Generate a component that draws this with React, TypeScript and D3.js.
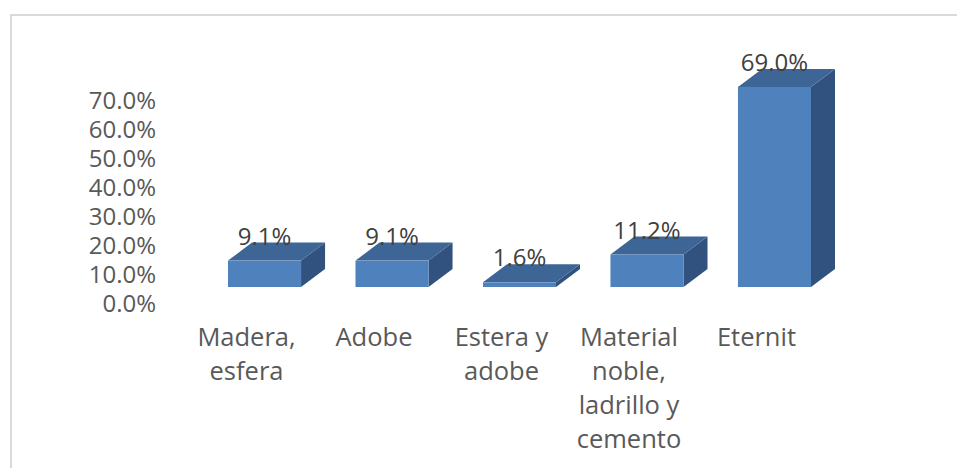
import { useRef, useEffect } from "react";
import * as d3 from "d3";

const categories = [
  "Madera,\nesfera",
  "Adobe",
  "Estera y\nadobe",
  "Material\nnoble,\nladrillo y\ncemento",
  "Eternit",
];
const values = [0.091, 0.091, 0.016, 0.112, 0.69];
const valueLabels = ["9.1%", "9.1%", "1.6%", "11.2%", "69.0%"];
const yTicks = [0, 0.1, 0.2, 0.3, 0.4, 0.5, 0.6, 0.7];

const W = 957;
const H = 468;

export default function App() {
  const svgRef = useRef<SVGSVGElement | null>(null);

  useEffect(() => {
    const svg = d3.select(svgRef.current);
    svg.selectAll("*").remove();

    const font = "'Open Sans', 'Noto Sans', sans-serif";
    const depthX = 24;
    const depthY = 18;

    // chart border (right and bottom edges fall outside the picture)
    svg
      .append("rect")
      .attr("x", 11)
      .attr("y", 15)
      .attr("width", W + 20)
      .attr("height", H + 20)
      .attr("fill", "#fff")
      .attr("stroke", "#d9d9d9")
      .attr("stroke-width", 2);

    const x = d3
      .scaleBand<string>()
      .domain(categories)
      .range([228, 811])
      .paddingInner(0.427)
      .paddingOuter(0);

    const y = d3.scaleLinear().domain([0, 0.7]).range([287, 84]);

    // y tick labels (sit a little below the bar base, like the 3D back wall)
    svg
      .append("g")
      .selectAll("text")
      .data(yTicks)
      .join("text")
      .attr("x", 156)
      .attr("y", (d) => y(d) + 16)
      .attr("dy", "0.36em")
      .attr("text-anchor", "end")
      .attr("font-family", font)
      .attr("font-size", 24)
      .attr("fill", "#595959")
      .text((d) => `${(d * 100).toFixed(1)}%`);

    const bars = svg
      .append("g")
      .selectAll("g")
      .data(values.map((v, i) => ({ v, c: categories[i], i })))
      .join("g");

    // right side face
    bars
      .append("path")
      .attr("fill", "#31527f")
      .attr("d", (d) => {
        const x1 = x(d.c)! + x.bandwidth();
        const y0 = y(0);
        const y1 = y(d.v);
        return `M${x1},${y0}L${x1 + depthX},${y0 - depthY}L${x1 + depthX},${y1 - depthY}L${x1},${y1}Z`;
      });

    // top face
    bars
      .append("path")
      .attr("fill", "#3d6596")
      .attr("d", (d) => {
        const x0 = x(d.c)!;
        const x1 = x0 + x.bandwidth();
        const y1 = y(d.v);
        return `M${x0},${y1}L${x0 + depthX},${y1 - depthY}L${x1 + depthX},${y1 - depthY}L${x1},${y1}Z`;
      });

    // front face
    bars
      .append("rect")
      .attr("x", (d) => x(d.c)!)
      .attr("y", (d) => y(d.v))
      .attr("width", x.bandwidth())
      .attr("height", (d) => y(0) - y(d.v))
      .attr("fill", "#4f81bd");

    // data labels
    svg
      .append("g")
      .selectAll("text")
      .data(values.map((v, i) => ({ v, c: categories[i], i })))
      .join("text")
      .attr("x", (d) => x(d.c)! + x.bandwidth() / 2)
      .attr("y", (d) => y(d.v) - 16)
      .attr("text-anchor", "middle")
      .attr("font-family", font)
      .attr("font-size", 24)
      .attr("fill", "#404040")
      .text((d) => valueLabels[d.i]);

    // category labels
    const cats = svg
      .append("g")
      .selectAll("text")
      .data(categories)
      .join("text")
      .attr("text-anchor", "middle")
      .attr("font-family", font)
      .attr("font-size", 25.5)
      .attr("fill", "#595959");

    cats
      .selectAll("tspan")
      .data((d) => d.split("\n").map((line) => ({ line, c: d })))
      .join("tspan")
      .attr("x", (d) => x(d.c)! + x.bandwidth() / 2 - 18)
      .attr("y", (_d, j) => 346 + j * 34)
      .text((d) => d.line);
  }, []);

  return (
    <div style={{ position: "absolute", left: 0, top: 0, width: W, height: H }}>
      <svg ref={svgRef} width={W} height={H} style={{ display: "block" }} />
    </div>
  );
}
